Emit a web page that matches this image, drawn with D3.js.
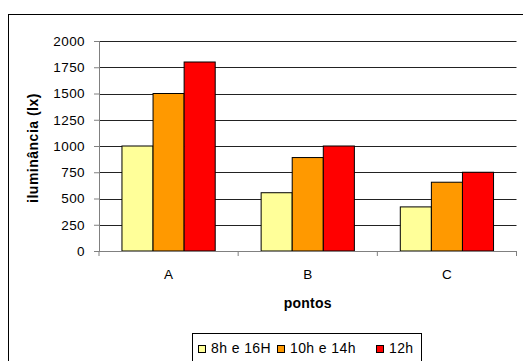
<!DOCTYPE html>
<html>
<head>
<meta charset="utf-8">
<script src="https://cdn.jsdelivr.net/npm/d3@7"></script>
<style>
  body { margin: 0; background: #fff; }
  text { font-family: "Liberation Sans", Arial, sans-serif; }
</style>
</head>
<body>
<svg width="523" height="361"></svg>
<script>
var pontos = ["A", "B", "C"];
var series = ["8h e 16H", "10h e 14h", "12h"];
var v8h16h = [1000, 555, 420];
var v10h14h = [1500, 890, 655];
var v12h = [1800, 1000, 750];
var yTicks = [0, 250, 500, 750, 1000, 1250, 1500, 1750, 2000];
var colors = ["#ffff99", "#ff9900", "#ff0000"];

var values = [v8h16h, v10h14h, v12h];

var svg = d3.select("svg"),
    margin = {top: 41, right: 6, bottom: 110, left: 99},
    width = 516.5 - margin.left,
    height = 251 - margin.top;

// outer chart frame
svg.append("rect")
    .attr("x", 8.5).attr("y", 14.5)
    .attr("width", 530).attr("height", 360)
    .attr("fill", "none")
    .attr("stroke", "#000")
    .attr("stroke-width", 1);

var x0 = d3.scaleBand().domain(pontos).range([0, width]).paddingInner(0.33).paddingOuter(0.165);
var x1 = d3.scaleBand().domain(series).range([0, x0.bandwidth()]);
var y = d3.scaleLinear().domain([0, 2000]).range([height, 0]);

var g = svg.append("g")
    .attr("transform", "translate(" + margin.left + "," + margin.top + ")");

// gridlines
g.append("g")
  .selectAll("line").data(yTicks.filter(function(d) { return d > 0; })).enter().append("line")
    .attr("x1", 0).attr("x2", width)
    .attr("y1", function(d) { return Math.round(y(d)) + 0.5; })
    .attr("y2", function(d) { return Math.round(y(d)) + 0.5; })
    .attr("stroke", "#222");

// bars
var grp = g.selectAll(".grp").data(pontos).enter().append("g")
    .attr("transform", function(d) { return "translate(" + x0(d) + ",0)"; });

grp.selectAll("rect")
    .data(function(d, i) { return series.map(function(s, j) { return {s: s, v: values[j][i], c: colors[j]}; }); })
  .enter().append("rect")
    .attr("x", function(d) { return x1(d.s); })
    .attr("y", function(d) { return y(d.v); })
    .attr("width", x1.bandwidth())
    .attr("height", function(d) { return height - y(d.v); })
    .attr("fill", function(d) { return d.c; })
    .attr("stroke", "#000")
    .attr("stroke-width", 1);

// y axis
var yAxis = g.append("g")
    .call(d3.axisLeft(y).tickValues(yTicks).tickFormat(d3.format("d")).tickSize(5).tickPadding(9));
yAxis.select(".domain").attr("stroke", "#808080").attr("d", "M0.5,0V" + height);
yAxis.selectAll(".tick line").attr("stroke", "#808080");
yAxis.selectAll("text").style("font-size", "13.5px").style("letter-spacing", "0.4px")
    .attr("fill", "#000");

// x axis
var xAxis = g.append("g")
    .attr("transform", "translate(0," + height + ")")
    .call(d3.axisBottom(x0).tickSize(0).tickPadding(18));
xAxis.select(".domain").attr("stroke", "#808080").attr("d", "M0," + 0.5 + "H" + width);
xAxis.selectAll("text").style("font-size", "13.5px").attr("fill", "#000");
xAxis.selectAll(".sep").data(d3.range(pontos.length + 1)).enter().append("line")
    .attr("x1", function(d) { return d * width / pontos.length; })
    .attr("x2", function(d) { return d * width / pontos.length; })
    .attr("y1", 0).attr("y2", 5)
    .attr("stroke", "#808080");

// axis titles
svg.append("text")
    .attr("transform", "translate(38," + (margin.top + height / 2 + 2) + ") rotate(-90)")
    .attr("text-anchor", "middle")
    .style("font-size", "14px").style("font-weight", "bold").style("letter-spacing", "0.5px")
    .text("iluminância (lx)");

svg.append("text")
    .attr("x", margin.left + width / 2)
    .attr("y", 308)
    .attr("text-anchor", "middle")
    .style("font-size", "14px").style("font-weight", "bold").style("letter-spacing", "0.2px")
    .text("pontos");

// legend
var legend = svg.append("g").attr("transform", "translate(192,333)");
legend.append("rect")
    .attr("x", 0.5).attr("y", 0.5).attr("width", 229).attr("height", 40)
    .attr("fill", "#fff").attr("stroke", "#000");
var legX = [6, 85, 184];
var item = legend.selectAll(".item").data(series).enter().append("g")
    .attr("transform", function(d, i) { return "translate(" + legX[i] + ",0)"; });
item.append("rect")
    .attr("x", 0.5).attr("y", 12.5).attr("width", 7).attr("height", 7)
    .attr("fill", function(d, i) { return colors[i]; })
    .attr("stroke", "#000");
item.append("text")
    .attr("x", 13).attr("y", 19.5)
    .style("font-size", "14px").style("letter-spacing", "0.4px")
    .text(function(d) { return d; });
</script>
</body>
</html>
